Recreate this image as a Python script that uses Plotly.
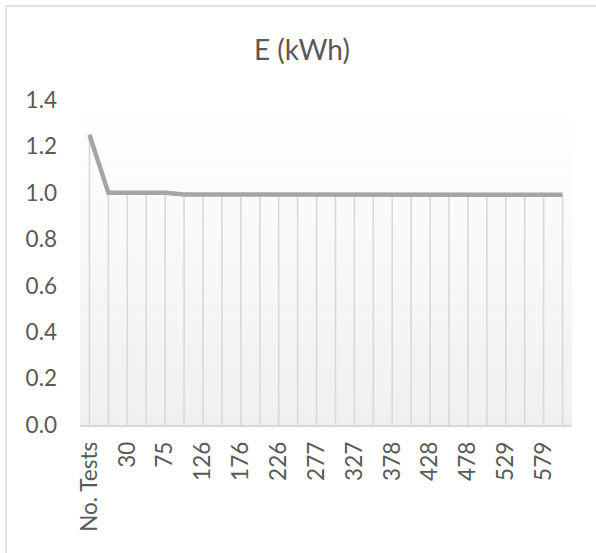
import plotly.graph_objects as go

categories = ["No. Tests", "5", "30", "53", "75", "101", "126", "151", "176", "201",
              "226", "252", "277", "302", "327", "352", "378", "403", "428", "453",
              "478", "504", "529", "554", "579", "604"]
energy_kwh = [1.25, 1.0, 1.0, 1.0, 1.0, 0.993, 0.993, 0.994, 0.994, 0.994,
              0.993, 0.993, 0.993, 0.993, 0.993, 0.992, 0.992, 0.992, 0.993, 0.993,
              0.992, 0.992, 0.992, 0.993, 0.992, 0.992]
tick_labels = categories[::2]
y_ticks = [0.0, 0.2, 0.4, 0.6, 0.8, 1.0, 1.2, 1.4]

W, H = 596, 553
L, R, T, B = 80, 23.5, 100, 128
FONT = "Lato"
TXT = "#595959"

# drop lines built from the data
dx, dy = [], []
for c, v in zip(categories, energy_kwh):
    dx += [c, c, None]
    dy += [0, v, None]

fig = go.Figure()
fig.add_trace(go.Scatter(x=dx, y=dy, mode="lines",
                         line=dict(color="#d9d9d9", width=1.6),
                         hoverinfo="skip", showlegend=False))
fig.add_trace(go.Scatter(x=categories, y=energy_kwh, mode="lines",
                         line=dict(color="#a5a5a5", width=4.5),
                         showlegend=False, name="E (kWh)"))

# gradient plot background (bands)
n = 40
shapes = []
for i in range(n):
    t = i / (n - 1)
    g = round(255 - (255 - 240) * t)
    col = f"rgb({g},{g},{g})"
    shapes.append(dict(type="rect", xref="x domain", yref="y domain",
                       x0=0, x1=1, y0=1 - (i + 1) / n, y1=1 - i / n,
                       fillcolor=col, line=dict(width=0), layer="below"))
# outer chart border
pw = W - L - R
ph = H - T - B
shapes.append(dict(type="rect", xref="paper", yref="paper",
                   x0=(6 - L) / pw, x1=(W + 5 - L) / pw,
                   y0=-(H + 5 - T - ph) / ph, y1=(H - 6 - B) / ph,
                   line=dict(color="#d9d9d9", width=1.5), fillcolor="rgba(0,0,0,0)",
                   layer="below"))

fig.update_layout(
    width=W, height=H,
    margin=dict(l=L, r=R, t=T, b=B, pad=0),
    paper_bgcolor="white", plot_bgcolor="white",
    font=dict(family=FONT, color=TXT, size=22),
    title=dict(text="E (kWh)", x=302 / W, xanchor="center", xref="container",
               y=1 - 50 / H, yanchor="middle",
               font=dict(family=FONT, size=28, color=TXT)),
    shapes=shapes,
    showlegend=False,
)
fig.update_xaxes(type="category", range=[-0.5, len(categories) - 0.5],
                 tickmode="array", tickvals=tick_labels, ticktext=tick_labels,
                 tickangle=-90, showgrid=False, showline=True,
                 linecolor="#d9d9d9", linewidth=1.5, ticks="",
                 ticklabelstandoff=6, tickfont=dict(size=22.5, color=TXT))
fig.update_yaxes(range=[0, 1.4], tickmode="array", tickvals=y_ticks,
                 ticktext=[f"{v:.1f}" for v in y_ticks],
                 showgrid=False, zeroline=False, showline=False, ticks="",
                 ticklabelstandoff=22, tickfont=dict(size=22.5, color=TXT))

fig.write_html("out.html", config={"displayModeBar": False},
               post_script="document.body.style.margin='0';document.body.style.overflow='hidden';")
